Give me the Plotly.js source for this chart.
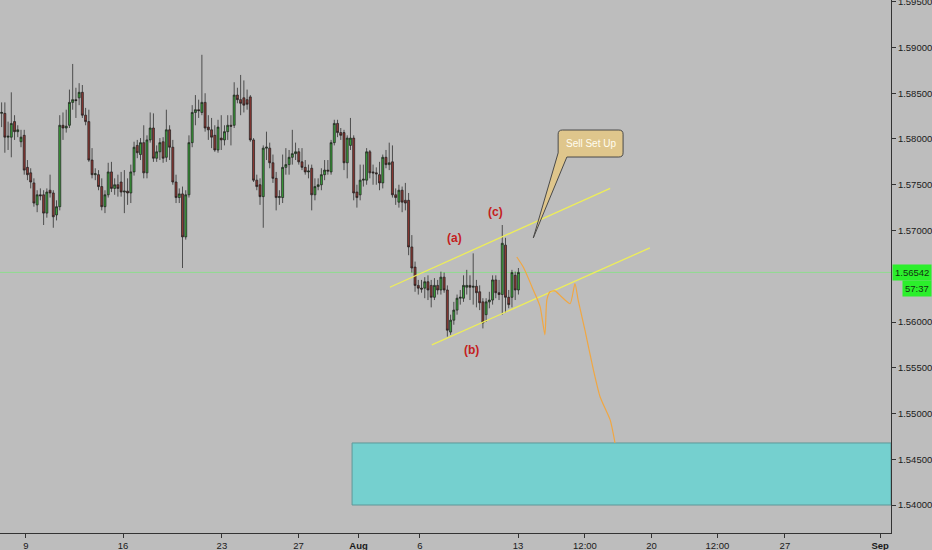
<!DOCTYPE html>
<html>
<head>
<meta charset="utf-8">
<script src="https://cdn.plot.ly/plotly-3.0.1.min.js"></script>
<style>html,body{margin:0;padding:0;background:#bdbdbd;}#chart{width:932px;height:550px;}</style>
</head>
<body>
<div id="chart"></div>
<script>
// 4H candles, prices
var opens = [1.5828,1.5828,1.5802,1.5802,1.5819,1.5808,1.5797,1.5804,1.5769,1.5763,
1.5752,1.5728,1.5739,1.5739,1.5719,1.5744,1.5741,1.5717,1.5726,1.5815,
1.5812,1.5815,1.5840,1.5843,1.5845,1.5851,1.5826,1.5819,1.5777,1.5761,
1.5761,1.5748,1.5726,1.5739,1.5764,1.5746,1.5750,1.5753,1.5742,1.5743,
1.5741,1.5764,1.5793,1.5783,1.5796,1.5763,1.5799,1.5812,1.5779,1.5786,
1.5797,1.5780,1.5810,1.5791,1.5753,1.5736,1.5740,1.5693,1.5739,1.5796,
1.5829,1.5832,1.5829,1.5840,1.5813,1.5810,1.5804,1.5788,1.5801,1.5799,
1.5808,1.5815,1.5815,1.5848,1.5843,1.5845,1.5843,1.5846,1.5799,1.5755,
1.5750,1.5737,1.5790,1.5790,1.5774,1.5757,1.5736,1.5736,1.5769,1.5772,
1.5780,1.5784,1.5786,1.5775,1.5769,1.5764,1.5768,1.5739,1.5748,1.5750,
1.5761,1.5766,1.5764,1.5796,1.5817,1.5807,1.5807,1.5774,1.5793,1.5801,
1.5742,1.5739,1.5755,1.5755,1.5786,1.5764,1.5763,1.5761,1.5752,1.5780,
1.5772,1.5775,1.5739,1.5731,1.5744,1.5733,1.5733,1.5682,1.5660,1.5640,
1.5637,1.5637,1.5644,1.5640,1.5627,1.5640,1.5635,1.5649,1.5635,1.5589,
1.5602,1.5613,1.5626,1.5626,1.5638,1.5640,1.5638,1.5639,1.5633,1.5622,
1.5608,1.5622,1.5624,1.5646,1.5632,1.5630,1.5684,1.5627,1.5627,1.5651,
1.5635];
var highs = [1.5840,1.5840,1.5819,1.5851,1.5826,1.5815,1.5810,1.5810,1.5777,1.5768,
1.5757,1.5744,1.5746,1.5744,1.5746,1.5761,1.5744,1.5733,1.5826,1.5829,
1.5832,1.5854,1.5882,1.5856,1.5861,1.5859,1.5834,1.5832,1.5790,1.5768,
1.5766,1.5757,1.5744,1.5774,1.5775,1.5757,1.5761,1.5764,1.5766,1.5757,
1.5772,1.5797,1.5799,1.5801,1.5815,1.5804,1.5829,1.5828,1.5793,1.5801,
1.5802,1.5832,1.5815,1.5799,1.5761,1.5746,1.5748,1.5744,1.5804,1.5837,
1.5848,1.5843,1.5892,1.5850,1.5826,1.5823,1.5815,1.5821,1.5826,1.5815,
1.5826,1.5826,1.5862,1.5856,1.5870,1.5864,1.5854,1.5848,1.5801,1.5761,
1.5757,1.5793,1.5808,1.5796,1.5783,1.5764,1.5744,1.5783,1.5790,1.5788,
1.5810,1.5796,1.5790,1.5790,1.5777,1.5772,1.5772,1.5757,1.5757,1.5768,
1.5777,1.5777,1.5799,1.5821,1.5821,1.5812,1.5810,1.5804,1.5823,1.5804,
1.5750,1.5772,1.5772,1.5790,1.5788,1.5772,1.5769,1.5775,1.5783,1.5788,
1.5796,1.5793,1.5746,1.5750,1.5748,1.5752,1.5741,1.5695,1.5666,1.5646,
1.5646,1.5649,1.5651,1.5646,1.5648,1.5646,1.5655,1.5654,1.5640,1.5608,
1.5622,1.5630,1.5635,1.5651,1.5657,1.5651,1.5675,1.5646,1.5640,1.5626,
1.5626,1.5633,1.5651,1.5651,1.5646,1.5706,1.5692,1.5635,1.5657,1.5655,
1.5659];
var lows = [1.5813,1.5785,1.5788,1.5780,1.5799,1.5802,1.5791,1.5761,1.5755,1.5746,
1.5726,1.5720,1.5733,1.5706,1.5714,1.5736,1.5703,1.5711,1.5722,1.5799,
1.5807,1.5812,1.5832,1.5823,1.5837,1.5823,1.5815,1.5775,1.5757,1.5755,
1.5744,1.5722,1.5719,1.5736,1.5742,1.5739,1.5737,1.5737,1.5719,1.5728,
1.5730,1.5760,1.5779,1.5777,1.5757,1.5757,1.5796,1.5775,1.5775,1.5777,
1.5774,1.5775,1.5777,1.5750,1.5730,1.5730,1.5659,1.5690,1.5736,1.5791,
1.5815,1.5823,1.5826,1.5808,1.5799,1.5790,1.5786,1.5785,1.5788,1.5793,
1.5799,1.5793,1.5812,1.5839,1.5826,1.5829,1.5832,1.5797,1.5753,1.5744,
1.5728,1.5703,1.5777,1.5768,1.5752,1.5722,1.5728,1.5730,1.5761,1.5761,
1.5772,1.5777,1.5772,1.5766,1.5761,1.5757,1.5722,1.5733,1.5744,1.5744,
1.5755,1.5761,1.5761,1.5793,1.5802,1.5799,1.5766,1.5757,1.5788,1.5733,
1.5725,1.5733,1.5748,1.5750,1.5757,1.5750,1.5750,1.5744,1.5746,1.5768,
1.5766,1.5736,1.5728,1.5725,1.5720,1.5722,1.5673,1.5654,1.5633,1.5630,
1.5632,1.5626,1.5624,1.5616,1.5624,1.5630,1.5630,1.5632,1.5584,1.5586,
1.5597,1.5608,1.5619,1.5622,1.5630,1.5624,1.5619,1.5616,1.5613,1.5593,
1.5600,1.5615,1.5619,1.5626,1.5624,1.5608,1.5610,1.5615,1.5616,1.5624,
1.5630];
var closes = [1.5829,1.5802,1.5803,1.5817,1.5808,1.5810,1.5802,1.5766,1.5761,1.5753,
1.5730,1.5739,1.5738,1.5719,1.5742,1.5741,1.5715,1.5726,1.5815,1.5812,
1.5814,1.5840,1.5843,1.5842,1.5851,1.5826,1.5819,1.5777,1.5761,1.5762,
1.5748,1.5726,1.5739,1.5764,1.5746,1.5750,1.5746,1.5742,1.5743,1.5741,
1.5764,1.5791,1.5785,1.5796,1.5763,1.5799,1.5812,1.5779,1.5786,1.5796,
1.5779,1.5810,1.5791,1.5753,1.5736,1.5740,1.5693,1.5739,1.5796,1.5829,
1.5832,1.5831,1.5840,1.5812,1.5810,1.5802,1.5788,1.5813,1.5799,1.5808,
1.5815,1.5814,1.5848,1.5843,1.5839,1.5837,1.5838,1.5799,1.5755,1.5748,
1.5737,1.5790,1.5791,1.5774,1.5757,1.5736,1.5737,1.5769,1.5772,1.5780,
1.5784,1.5786,1.5775,1.5769,1.5764,1.5765,1.5739,1.5748,1.5750,1.5761,
1.5766,1.5765,1.5796,1.5817,1.5807,1.5804,1.5774,1.5801,1.5801,1.5741,
1.5736,1.5755,1.5756,1.5786,1.5763,1.5763,1.5762,1.5752,1.5780,1.5772,
1.5774,1.5739,1.5736,1.5744,1.5731,1.5730,1.5682,1.5659,1.5640,1.5637,
1.5636,1.5644,1.5635,1.5627,1.5640,1.5635,1.5649,1.5635,1.5591,1.5602,
1.5613,1.5626,1.5627,1.5640,1.5640,1.5638,1.5639,1.5632,1.5621,1.5599,
1.5622,1.5624,1.5646,1.5632,1.5630,1.5686,1.5627,1.5619,1.5654,1.5635,
1.56542];

// time axis (in 4H-bar units) and its labels
var tickPos    = [7.5, 37.6, 68.2, 91.9, 110.5, 129.5, 159.9, 180.6, 201.2, 221.6, 242.5, 272.0];
var tickLabels = ['9','16','23','27','<b>Aug</b>','6','13','12:00','20','12:00','27','<b>Sep</b>'];
// price axis labels (1.56500 is covered by the last-price badge)
var priceTicks = [1.540, 1.545, 1.550, 1.555, 1.560, 1.570, 1.575, 1.580, 1.585, 1.590, 1.595];

// drawing objects
var lastPrice = 1.56542;
var countdown = '57:37';
var projX = [159.5,161.5,164.6,166.7,168.2,168.8,169.8,171.3,173.5,176.0,177.5,178.5,180.6,183.2,185.3,188.4,189.9];
var projY = [1.5671,1.5660,1.5635,1.5617,1.5586,1.5624,1.5633,1.5634,1.5627,1.5620,1.5642,1.5624,1.5591,1.5548,1.5518,1.5493,1.5468];
var upperX = [120.2, 188.4], upperY = [1.5638, 1.5746];
var lowerX = [133.2, 200.7], lowerY = [1.5575, 1.5681];
var zoneX0 = 108.5, zoneTop = 1.54678, zoneBottom = 1.5400;
var waveLabels = ['(a)','(b)','(c)'];
var waveX = [140.1, 145.6, 152.8];
var waveY = [1.5692, 1.5569, 1.5720];
var calloutText = 'Sell Set Up';
var calloutBox = {x0: 172.3, x1: 192.4, yTop: 1.58098, yBot: 1.57803, tailR: 175.0, tipX: 164.6, tipY: 1.56918};

var xRange = [-0.5, 275.35];
var yRange = [1.53694, 1.59519];

var idx = opens.map(function(_, i){ return i; });

var traces = [
  {
    type: 'candlestick', x: idx, open: opens, high: highs, low: lows, close: closes,
    increasing: {line: {color: '#1c1c1c', width: 0.7}, fillcolor: '#3a9e3a'},
    decreasing: {line: {color: '#1c1c1c', width: 0.7}, fillcolor: '#8c3833'},
    whiskerwidth: 0, hoverinfo: 'skip', showlegend: false
  },
  {type: 'scatter', mode: 'lines', x: upperX, y: upperY, line: {color: '#eded5a', width: 1.3}, hoverinfo: 'skip', showlegend: false},
  {type: 'scatter', mode: 'lines', x: lowerX, y: lowerY, line: {color: '#eded5a', width: 1.3}, hoverinfo: 'skip', showlegend: false},
  {type: 'scatter', mode: 'lines', x: projX, y: projY, line: {color: '#f0a743', width: 1.2, shape: 'spline', smoothing: 0.6}, hoverinfo: 'skip', showlegend: false}
];

var cb = calloutBox, rx = 1.3, ry = 0.00045;
var calloutPath = 'M ' + (cb.x0 + rx) + ',' + cb.yTop +
  ' L ' + (cb.x1 - rx) + ',' + cb.yTop +
  ' Q ' + cb.x1 + ',' + cb.yTop + ' ' + cb.x1 + ',' + (cb.yTop - ry) +
  ' L ' + cb.x1 + ',' + (cb.yBot + ry) +
  ' Q ' + cb.x1 + ',' + cb.yBot + ' ' + (cb.x1 - rx) + ',' + cb.yBot +
  ' L ' + cb.tailR + ',' + cb.yBot +
  ' L ' + cb.tipX + ',' + cb.tipY +
  ' L ' + cb.x0 + ',' + (cb.yBot + ry) +
  ' L ' + cb.x0 + ',' + (cb.yTop - ry) +
  ' Q ' + cb.x0 + ',' + cb.yTop + ' ' + (cb.x0 + rx) + ',' + cb.yTop + ' Z';

var shapes = [
  {type: 'rect', xref: 'x', yref: 'y', x0: zoneX0, x1: xRange[1], y0: zoneBottom, y1: zoneTop,
   fillcolor: '#75d0cf', line: {color: '#5e9899', width: 1}, layer: 'below'},
  {type: 'line', xref: 'paper', yref: 'y', x0: 0, x1: 1, y0: lastPrice, y1: lastPrice,
   line: {color: '#8fdc8f', width: 1}, layer: 'below'},
  {type: 'path', xref: 'x', yref: 'y', path: calloutPath, fillcolor: '#dfc68c', line: {color: '#4a4a4a', width: 1}}
];

var annotations = [
  {xref: 'x', yref: 'y', x: (cb.x0 + cb.x1) / 2, y: (cb.yTop + cb.yBot) / 2, text: calloutText, showarrow: false,
   font: {family: 'Liberation Sans, Arial, sans-serif', size: 10, color: '#fffdf0'}},
  {xref: 'paper', yref: 'y', x: 1, xanchor: 'left', xshift: 1, y: lastPrice, yanchor: 'middle', text: lastPrice.toFixed(5),
   showarrow: false, bgcolor: '#2bef2b', borderpad: 2, font: {family: 'Liberation Sans, Arial, sans-serif', size: 9.5, color: '#123312'}},
  {xref: 'paper', yref: 'y', x: 1, xanchor: 'right', xshift: 41, y: lastPrice, yanchor: 'middle', yshift: -16, text: countdown,
   showarrow: false, bgcolor: '#2bef2b', borderpad: 2, font: {family: 'Liberation Sans, Arial, sans-serif', size: 9.5, color: '#123312'}}
];
waveLabels.forEach(function(t, i){
  annotations.push({xref: 'x', yref: 'y', x: waveX[i], y: waveY[i], text: '<b>' + t + '</b>', showarrow: false,
    font: {family: 'Liberation Sans, Arial, sans-serif', size: 12, color: '#c41e1e'}});
});

var layout = {
  width: 932, height: 550,
  margin: {l: 0, r: 41, t: 0, b: 17, pad: 0},
  paper_bgcolor: '#bdbdbd', plot_bgcolor: '#bdbdbd',
  showlegend: false, boxgap: 0.12,
  font: {family: 'Liberation Sans, Arial, sans-serif', size: 9.5, color: '#222'},
  xaxis: {
    type: 'linear', range: xRange, showgrid: false, zeroline: false,
    showline: true, linecolor: '#333', linewidth: 1, mirror: false,
    ticks: 'outside', ticklen: 4, tickcolor: '#333',
    tickmode: 'array', tickvals: tickPos, ticktext: tickLabels,
    tickfont: {size: 9.5, color: '#1a1a1a'},
    rangeslider: {visible: false}, fixedrange: true
  },
  yaxis: {
    side: 'right', range: yRange, showgrid: false, zeroline: false,
    showline: true, linecolor: '#333', linewidth: 1,
    ticks: 'outside', ticklen: 4, tickcolor: '#333',
    tickmode: 'array', tickvals: priceTicks, ticktext: priceTicks.map(function(v){ return v.toFixed(5); }),
    ticklabeloverflow: 'allow',
    tickfont: {size: 9.5, color: '#1a1a1a'}, fixedrange: true
  },
  shapes: shapes,
  annotations: annotations
};

Plotly.newPlot('chart', traces, layout, {displayModeBar: false, staticPlot: true});
</script>
</body>
</html>
